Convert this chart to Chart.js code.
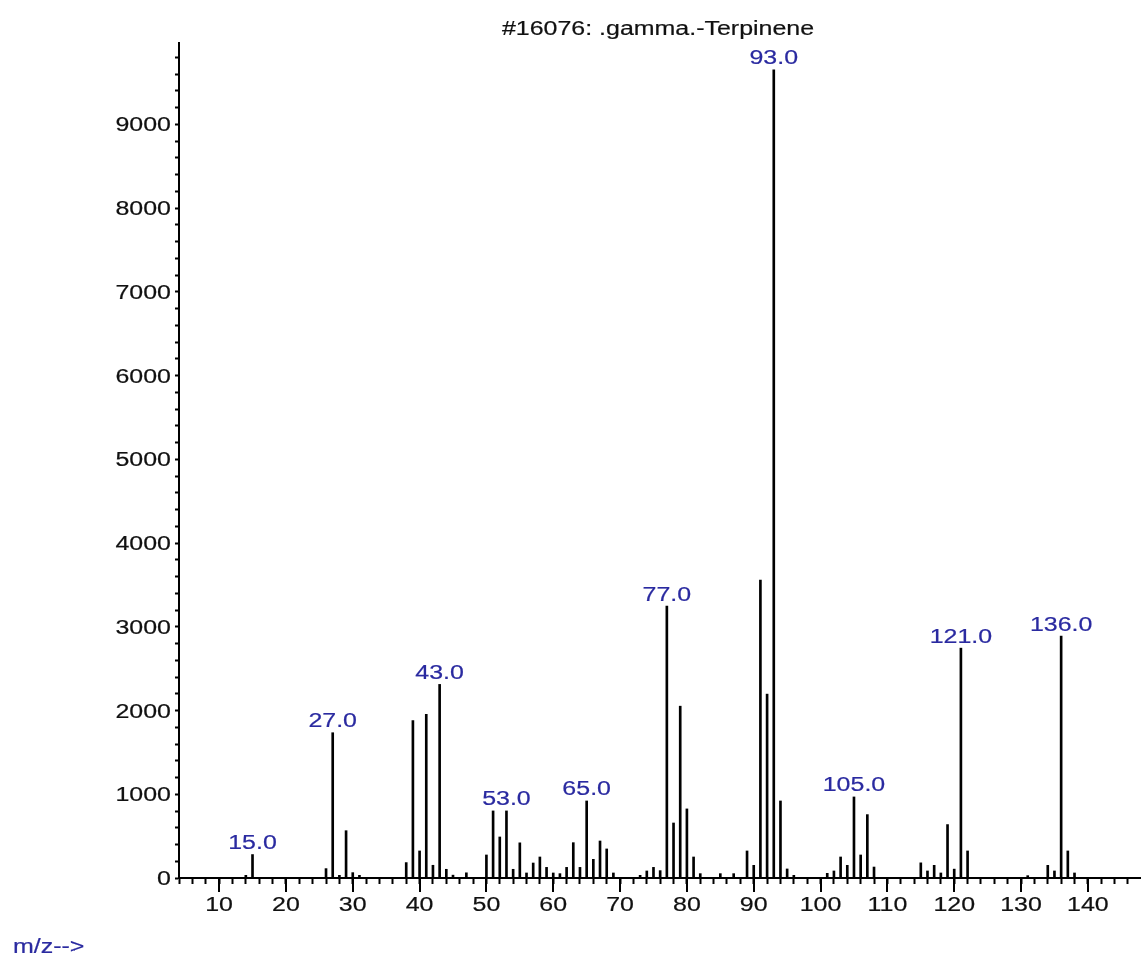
<!DOCTYPE html>
<html>
<head>
<meta charset="utf-8">
<script src="https://cdn.jsdelivr.net/npm/chart.js@4/dist/chart.umd.min.js"></script>
<style>
  html, body { margin: 0; padding: 0; background: #fff; }
  #wrap { width: 1142px; height: 959px; position: relative; }
</style>
</head>
<body>
<div id="wrap"><canvas id="spectrum"></canvas></div>
<script>
const title = '#16076: .gamma.-Terpinene'
const xAxisLabel = 'm/z-->'

// m/z values and their abundances
const mz = [14,15,26,27,28,29,30,31,38,39,40,41,42,43,44,45,47,50,51,52,53,54,55,56,57,58,59,60,61,62,63,64,65,66,67,68,69,73,74,75,76,77,78,79,80,81,82,85,87,89,90,91,92,93,94,95,96,101,102,103,104,105,106,107,108,115,116,117,118,119,120,121,122,131,134,135,136,137,138]
const abundance = [32,280,112,1735,32,565,64,32,184,1880,323,1955,152,2312,104,34,62,275,801,490,801,104,420,60,179,251,127,60,52,127,422,127,920,223,442,347,60,32,84,127,88,3247,657,2052,825,251,52,52,52,323,151,3558,2196,9653,920,108,32,56,84,251,151,968,275,757,131,181,84,151,60,638,106,2745,323,28,151,84,2889,323,60]

// peaks that get their m/z written above them
const labelledPeaks = [15,27,43,53,65,77,93,105,121,136]

const xTickLabels = [10,20,30,40,50,60,70,80,90,100,110,120,130,140]
const yTickLabels = [0,1000,2000,3000,4000,5000,6000,7000,8000,9000]

const FONT = '19.5px "Liberation Sans", Arial, sans-serif'
const STRETCH = 1.28
const BLUE = '#2a2aa0'

// text drawn a bit wider than the font's own shape, with a hairline stroke for weight
function wideText(ctx, str, x, y, align, color) {
  ctx.save()
  ctx.translate(x, y)
  ctx.scale(STRETCH, 1)
  ctx.font = FONT
  ctx.fillStyle = color
  ctx.strokeStyle = color
  ctx.lineWidth = 0.2
  ctx.textAlign = align
  ctx.textBaseline = 'alphabetic'
  ctx.fillText(str, 0, 0)
  ctx.strokeText(str, 0, 0)
  ctx.restore()
}

const textPlugin = {
  id: 'spectrumText',
  afterDraw(chart) {
    const ctx = chart.ctx
    const xs = chart.scales.x
    const ys = chart.scales.y
    const bottom = chart.chartArea.bottom

    // long ticks every 10 units
    ctx.save()
    ctx.strokeStyle = '#000'
    ctx.lineWidth = 2
    xTickLabels.forEach(v => {
      const px = Math.round(xs.getPixelForValue(v))
      ctx.beginPath()
      ctx.moveTo(px, bottom)
      ctx.lineTo(px, bottom + 14)
      ctx.stroke()
    })
    ctx.restore()

    xTickLabels.forEach(v => {
      wideText(ctx, String(v), xs.getPixelForValue(v), bottom + 33, 'center', '#111')
    })
    yTickLabels.forEach(v => {
      wideText(ctx, String(v), chart.chartArea.left - 8, ys.getPixelForValue(v) + 7, 'right', '#111')
    })

    labelledPeaks.forEach(m => {
      const i = mz.indexOf(m)
      wideText(ctx, m.toFixed(1), xs.getPixelForValue(m), ys.getPixelForValue(abundance[i]) - 5.5, 'center', BLUE)
    })

    wideText(ctx, title, 658, 35, 'center', '#111')
    wideText(ctx, xAxisLabel, 13, 953, 'left', BLUE)
  }
}

new Chart(document.getElementById('spectrum'), {
  type: 'bar',
  data: {
    datasets: [{
      data: mz.map((m, i) => ({ x: m, y: abundance[i] })),
      backgroundColor: '#000',
      borderWidth: 0,
      barThickness: 2
    }]
  },
  options: {
    responsive: true,
    maintainAspectRatio: false,
    animation: false,
    layout: { padding: { left: 169, right: 2, top: 43, bottom: 61 } },
    plugins: { legend: { display: false }, tooltip: { enabled: false } },
    scales: {
      x: {
        type: 'linear',
        offset: false,
        min: 4,
        max: 147.8,
        afterBuildTicks: s => {
          const t = []
          for (let v = 4; v <= 146; v += 2) t.push({ value: v })
          s.ticks = t
        },
        afterFit: s => { s.height = 20 },
        ticks: { display: false },
        grid: { offset: false, drawOnChartArea: false, tickLength: 6, tickWidth: 2, tickColor: '#000' },
        border: { color: '#000', width: 2 }
      },
      y: {
        min: 0,
        max: 9972,
        afterBuildTicks: s => {
          const t = []
          for (let v = 0; v <= 9800; v += 200) t.push({ value: v })
          s.ticks = t
        },
        afterFit: s => { s.width = 10 },
        ticks: { display: false },
        grid: { drawOnChartArea: false, tickLength: 4, tickWidth: 2, tickColor: '#000' },
        border: { color: '#000', width: 2 }
      }
    }
  },
  plugins: [textPlugin]
})
</script>
</body>
</html>
